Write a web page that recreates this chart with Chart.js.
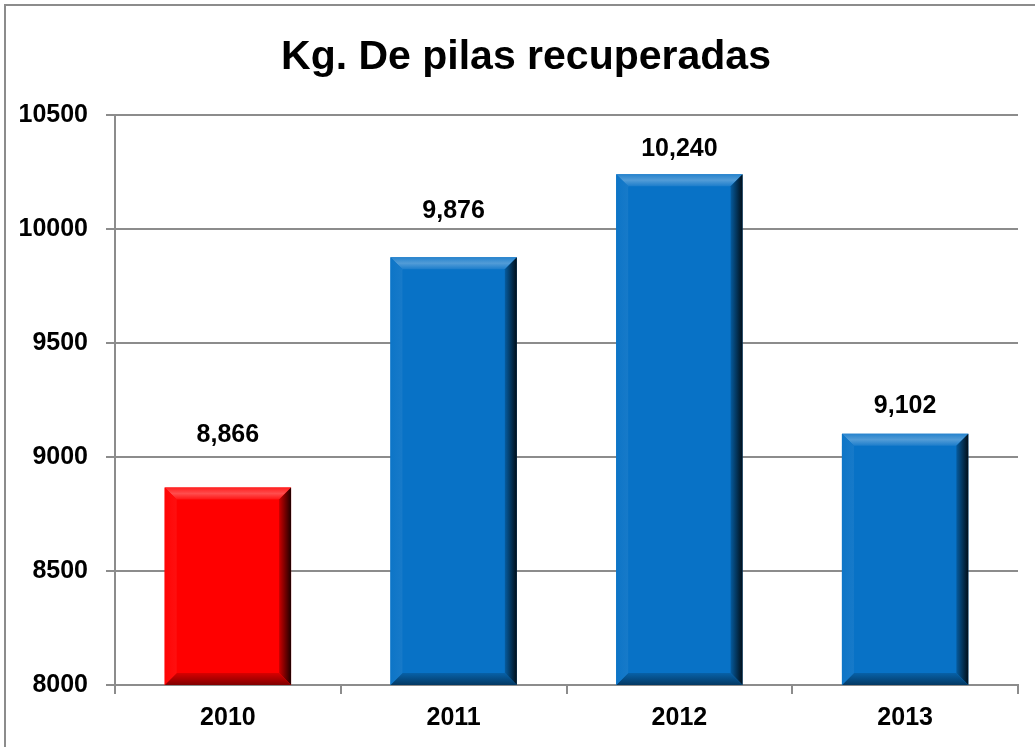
<!DOCTYPE html>
<html>
<head>
<meta charset="utf-8">
<script src="https://cdn.jsdelivr.net/npm/chart.js@4"></script>
<style>
  html, body { margin: 0; padding: 0; background: #fff; }
  #wrap { width: 1035px; height: 747px; position: relative; }
</style>
</head>
<body>
<div id="wrap"><canvas id="chart" width="1035" height="747"></canvas></div>
<script>
const years = ["2010", "2011", "2012", "2013"];
const kilos = [8866, 9876, 10240, 9102];
const barColors = ["#ff0000", "#0872c6", "#0872c6", "#0872c6"];
const yTicks = [8000, 8500, 9000, 9500, 10000, 10500];
const chartTitle = "Kg. De pilas recuperadas";

// gap (px) between bar top and its value label, placed by hand in the original
const labelGap = [46, 39, 18, 21];

const FONT = "'Liberation Sans', Arial, sans-serif";

function shade(hex, amt) {
  let r = parseInt(hex.slice(1, 3), 16), g = parseInt(hex.slice(3, 5), 16), b = parseInt(hex.slice(5, 7), 16);
  const f = c => Math.max(0, Math.min(255, Math.round(amt >= 0 ? c + (255 - c) * amt : c * (1 + amt))));
  return "rgb(" + f(r) + "," + f(g) + "," + f(b) + ")";
}

// outer frame, title, bevel on bars, value labels
const extras = {
  id: "extras",
  beforeDraw(chart) {
    const ctx = chart.ctx;
    ctx.save();
    ctx.strokeStyle = "#8c8c8c";
    ctx.lineWidth = 2;
    ctx.strokeRect(5, 5, 1100, 900);
    ctx.fillStyle = "#000";
    ctx.font = "bold 41px " + FONT;
    ctx.textAlign = "center";
    ctx.textBaseline = "alphabetic";
    ctx.fillText(chartTitle, 526, 69);
    ctx.restore();
  },
  afterDatasetsDraw(chart) {
    const ctx = chart.ctx;
    const meta = chart.getDatasetMeta(0);
    meta.data.forEach((bar, i) => {
      const col = barColors[i];
      const l = bar.x - bar.width / 2, r = bar.x + bar.width / 2;
      const t = bar.y, b = Math.min(bar.base, chart.chartArea.bottom);
      const s = 12;
      ctx.save();
      // top
      let g = ctx.createLinearGradient(0, t, 0, t + s);
      g.addColorStop(0, shade(col, 0.12));
      g.addColorStop(0.5, shade(col, 0.3));
      g.addColorStop(1, shade(col, 0.08));
      ctx.fillStyle = g;
      ctx.beginPath();
      ctx.moveTo(l, t); ctx.lineTo(r, t); ctx.lineTo(r - s, t + s); ctx.lineTo(l + s, t + s); ctx.closePath();
      ctx.fill();
      // right
      g = ctx.createLinearGradient(r - s, 0, r, 0);
      g.addColorStop(0, shade(col, -0.2));
      g.addColorStop(1, shade(col, -0.88));
      ctx.fillStyle = g;
      ctx.beginPath();
      ctx.moveTo(r, t); ctx.lineTo(r, b); ctx.lineTo(r - s, b - s); ctx.lineTo(r - s, t + s); ctx.closePath();
      ctx.fill();
      // bottom
      g = ctx.createLinearGradient(0, b - s, 0, b);
      g.addColorStop(0, shade(col, -0.15));
      g.addColorStop(1, shade(col, -0.5));
      ctx.fillStyle = g;
      ctx.beginPath();
      ctx.moveTo(l, b); ctx.lineTo(r, b); ctx.lineTo(r - s, b - s); ctx.lineTo(l + s, b - s); ctx.closePath();
      ctx.fill();
      // left
      g = ctx.createLinearGradient(l, 0, l + s, 0);
      g.addColorStop(0, shade(col, 0.02));
      g.addColorStop(1, shade(col, 0.06));
      ctx.fillStyle = g;
      ctx.beginPath();
      ctx.moveTo(l, t); ctx.lineTo(l + s, t + s); ctx.lineTo(l + s, b - s); ctx.lineTo(l, b); ctx.closePath();
      ctx.fill();

      // value label
      ctx.fillStyle = "#000";
      ctx.font = "bold 25px " + FONT;
      ctx.textAlign = "center";
      ctx.textBaseline = "alphabetic";
      ctx.fillText(kilos[i].toLocaleString("en-US"), bar.x, t - labelGap[i]);
      ctx.restore();
    });
  }
};

new Chart(document.getElementById("chart"), {
  type: "bar",
  data: {
    labels: years,
    datasets: [{
      label: "Kg",
      data: kilos,
      backgroundColor: barColors,
      borderWidth: 0,
      barPercentage: 0.56,
      categoryPercentage: 1
    }]
  },
  options: {
    responsive: false,
    animation: false,
    layout: { padding: { left: 5, right: 17, top: 115, bottom: 0 } },
    plugins: {
      legend: { display: false },
      tooltip: { enabled: false },
      title: { display: false }
    },
    scales: {
      x: {
        grid: { drawOnChartArea: false, drawTicks: true, tickLength: 9, color: "#8c8c8c", lineWidth: 2 },
        border: { color: "#8c8c8c", width: 2 },
        ticks: { color: "#000", padding: 9, font: { family: FONT, size: 25, weight: "bold" } },
        afterFit(scale) { scale.height = 62; }
      },
      y: {
        min: 8000,
        max: 10500,
        afterBuildTicks(scale) { scale.ticks = yTicks.map(v => ({ value: v })); },
        grid: { color: "#8c8c8c", lineWidth: 2, tickLength: 9 },
        border: { color: "#8c8c8c", width: 2 },
        ticks: {
          color: "#000", padding: 18,
          font: { family: FONT, size: 25, weight: "bold" },
          callback: v => String(v)
        },
        afterFit(scale) { scale.width = 110; }
      }
    }
  },
  plugins: [extras]
});
</script>
</body>
</html>
